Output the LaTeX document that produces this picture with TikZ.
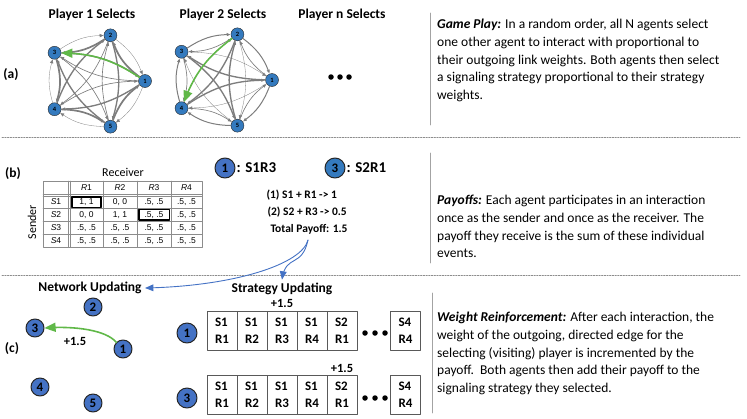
\documentclass[tikz,border=0pt]{standalone}
\usepackage{fontspec}
\setmainfont{Carlito}
\newfontfamily\tablefont{Liberation Sans}
\usetikzlibrary{arrows,arrows.meta}

\definecolor{agentblue}{RGB}{68,114,196}
\definecolor{graphblue}{RGB}{52,122,190}
\definecolor{linkgray}{RGB}{125,125,125}
\definecolor{pickgreen}{RGB}{96,184,72}
\definecolor{rulegray}{RGB}{140,140,140}

\tikzset{
  gagent/.style={circle,draw=black!85,line width=0.4pt,fill=graphblue,inner sep=0pt,minimum size=13pt,font=\fontsize{6.5}{6.5}\selectfont\bfseries},
  agent/.style={circle,draw=black!85,line width=1pt,fill=agentblue,inner sep=0pt,minimum size=18pt,font=\fontsize{13}{13}\selectfont\bfseries},
  title/.style={font=\fontsize{13.5}{14}\selectfont\bfseries},
  small/.style={font=\fontsize{11.5}{12}\selectfont\bfseries},
  link/.style={draw=linkgray,-{Latex[length=4pt,width=3.5pt]}},
  pick/.style={draw=pickgreen,line width=1.6pt,->},
  flow/.style={draw=agentblue,line width=0.9pt,->},
  sep/.style={draw=rulegray,line width=0.6pt,dash pattern=on 1.5pt off 1.2pt},
  vrule/.style={draw=rulegray!80,line width=0.8pt},
  grid/.style={draw=black!45,line width=0.5pt},
  cell/.style={draw=black!65,line width=0.8pt,minimum width=30pt,minimum height=39pt,inner sep=0pt,align=left,font=\fontsize{13}{17}\selectfont\bfseries},
  note/.style={anchor=north west,inner sep=0pt,align=left,font=\fontsize{13.5}{17.7}\selectfont},
  tabtext/.style={font=\tablefont\fontsize{8.5}{9}\selectfont},
  dot/.style={circle,fill=black,inner sep=0pt,minimum size=5.5pt},
}

\begin{document}
\begin{tikzpicture}[x=1pt,y=-1pt,line cap=round,line join=round,>=triangle 45]
\useasboundingbox (0,0) rectangle (747,418);

% separators
\draw[sep] (2,137) -- (740,137);
\draw[sep] (2,275) -- (740,275);
\draw[vrule] (430,13) -- (430,125);
\draw[vrule] (430,153) -- (430,263);
\draw[vrule] (432,293) -- (432,413);

%% (a) game play
\node[title] (la) at (11,75) {(a)};
\node[title] (t1) at (92,15) {Player 1 Selects};
\node[title] (t2) at (223,15) {Player 2 Selects};
\node[title] (tn) at (342,15) {Player n Selects};
\node[dot] (d1) at (331,77) {};
\node[dot] (d2) at (340,77) {};
\node[dot] (d3) at (349,77) {};

\foreach \g/\cx/\cy/\from/\to in {1/95/81/1/3, 2/222/80/2/4}{
  \foreach \k in {1,...,5}
    \node[gagent] (g\g n\k) at ({\cx+50*cos(72*(\k-1))},{\cy-48*sin(72*(\k-1))}) {\k};
  \foreach \i in {1,...,5}
    \foreach \j in {1,...,5}{
      \ifnum\i=\j\else
        \pgfmathsetmacro\w{0.3+0.35*mod(3*\i+7*\j+2*\g,5)}
        \draw[link,line width=\w pt] (g\g n\i) to[bend left=16] (g\g n\j);
      \fi
    }
  \draw[pick] (g\g n\from) to[bend right=16] (g\g n\to);
}

%% (b) payoffs
\node[title] (lb) at (13,174) {(b)};
\node[font=\fontsize{12}{12}\selectfont] (recv) at (123,172) {Receiver};
\node[font=\fontsize{12}{12}\selectfont,rotate=90] (send) at (32,222) {Sender};
\draw[grid] (43,181) rectangle (202,247);
\foreach \y in {208,221,234} \draw[grid] (43,\y) -- (202,\y);
\foreach \x in {103,137,171} \draw[grid] (\x,181) -- (\x,247);
\draw[grid] (43,194) -- (202,194) (43,196) -- (202,196);
\draw[grid] (68,181) -- (68,247) (70,181) -- (70,247);
\foreach \x/\c in {86.5/1,120/2,154/3,186.5/4}
  \node[tabtext] (rh\c) at (\x,188) {\textit{R}\c};
\foreach \y/\r in {202/1,215/2,228/3,241/4}
  \node[tabtext] (sh\r) at (56,\y) {\textit{S}\r};
\foreach \x/\c/\a/\b in {86.5/1/{1, 1}/{0, 0},120/2/{0, 0}/{1, 1},154/3/{.5, .5}/{.5, .5},186.5/4/{.5, .5}/{.5, .5}}{
  \node[tabtext] (v1\c) at (\x,202) {\a};
  \node[tabtext] (v2\c) at (\x,215) {\b};
  \node[tabtext] (v3\c) at (\x,228) {.5, .5};
  \node[tabtext] (v4\c) at (\x,241) {.5, .5};
}
\draw[line width=1.3pt] (72,197) rectangle (101,207.5);
\draw[line width=1.3pt] (139,209.5) rectangle (169.5,220);

\node[agent,minimum size=20pt] (p1) at (225,168) {1};
\node[anchor=west,inner sep=1pt,font=\fontsize{15}{15}\selectfont\bfseries] (p1s) at (p1.east) {: S1R3};
\node[agent,minimum size=20pt,fill=graphblue] (p3) at (335,168) {3};
\node[anchor=west,inner sep=1pt,font=\fontsize{15}{15}\selectfont\bfseries] (p3s) at (p3.east) {: S2R1};
\node[small,anchor=west] (e1) at (263,195) {(1) S1 + R1 -> 1};
\node[small,anchor=west] (e2) at (264,212) {(2) S2 + R3 -> 0.5};
\node[small,anchor=west] (tot) at (267,229) {Total Payoff: 1.5};
\coordinate (split) at (308,240);

%% (c) weight reinforcement
\node[title] (lc) at (12,349) {(c)};
\node[title] (netlbl) at (90,288) {Network Updating};
\node[title] (stratlbl) at (282,289) {Strategy Updating};
\draw[flow] (split) .. controls (302,264) and (235,286) .. (netlbl.east);
\draw[flow] (split) .. controls (302,268) and (286,254) .. (stratlbl.north);

\node[agent] (c1) at (123,349) {1};
\node[agent] (c2) at (93,307) {2};
\node[agent] (c3) at (35,328) {3};
\node[agent] (c4) at (40,387) {4};
\node[agent] (c5) at (93,403) {5};
\node[small,font=\fontsize{12.5}{13}\selectfont\bfseries] (gain) at (75,341) {+1.5};
\draw[pick] (c1.north west) .. controls (106,330) and (75,326) .. (c3.east);

\node[agent,minimum size=20pt] (r1) at (187,333) {1};
\node[agent,minimum size=20pt] (r3) at (187,398) {3};
\foreach \s/\r [count=\c] in {1/1,1/2,1/3,1/4,2/1}{
  \node[cell] (a\c) at ({192+30*\c},330.5) {S\s\\R\r};
  \node[cell] (b\c) at ({192+30*\c},395) {S\s\\R\r};
}
\node[cell] (a6) at (405.5,330.5) {S4\\R4};
\node[cell] (b6) at (405.5,395) {S4\\R4};
\foreach \x [count=\n] in {365,375,385}{
  \node[dot] (ad\n) at (\x,333) {};
  \node[dot] (bd\n) at (\x,398) {};
}
\node[font=\fontsize{12.5}{13}\selectfont\bfseries] (gainA) at (a3.north) [above=-1pt] {+1.5};
\node[font=\fontsize{12.5}{13}\selectfont\bfseries] (gainB) at (b5.north) [above=-1pt] {+1.5};

%% notes
\node[note] (gamenote) at (437,19) {\textbf{\textit{Game Play:}} In a random order, all N agents select\\
one other agent to interact with proportional to\\
their outgoing link weights. Both agents then select\\
a signaling strategy proportional to their strategy\\
weights.};
\node[note] (paynote) at (437,195) {\textbf{\textit{Payoffs:}} Each agent participates in an interaction\\
once as the sender and once as the receiver. The\\
payoff they receive is the sum of these individual\\
events.};
\node[note] (weightnote) at (437,312) {\textbf{\textit{Weight Reinforcement:}} After each interaction, the\\
weight of the outgoing, directed edge for the\\
selecting (visiting) player is incremented by the\\
payoff.\ \ Both agents then add their payoff to the\\
signaling strategy they selected.};
\end{tikzpicture}
\end{document}
